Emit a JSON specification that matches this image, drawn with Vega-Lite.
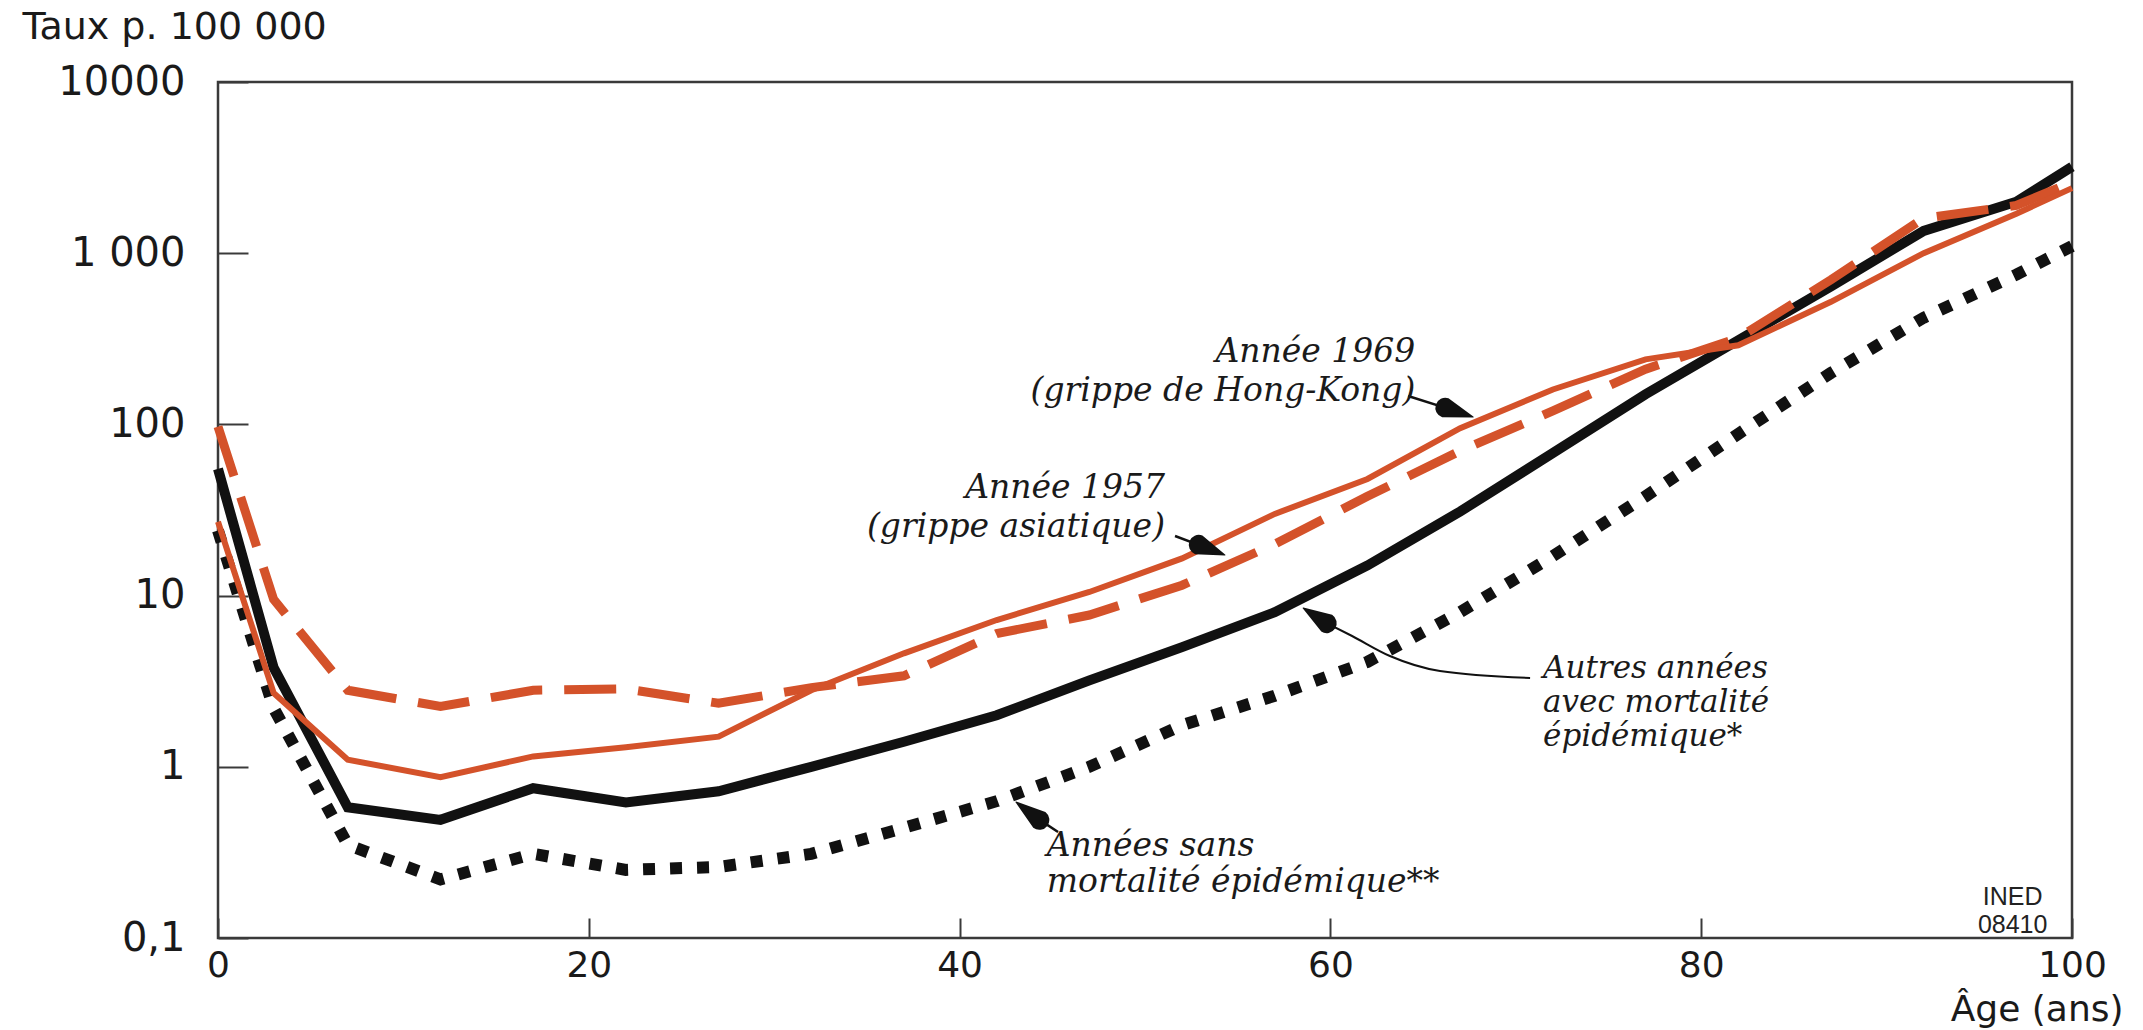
{
  "$schema": "https://vega.github.io/schema/vega-lite/v6.json",
  "width": 1854,
  "height": 856,
  "autosize": {"type": "none"},
  "padding": {"left": 218, "top": 82, "right": 71, "bottom": 92},
  "background": "white",
  "config": {
    "view": {"stroke": "#3a3a3a", "strokeWidth": 2.5}
  },
  "datasets": {
    "curves": [
      {"s":"1969","age":0,"v":27},{"s":"1969","age":3,"v":2.7},{"s":"1969","age":7,"v":1.1},{"s":"1969","age":12,"v":0.87},{"s":"1969","age":17,"v":1.15},{"s":"1969","age":22,"v":1.3},{"s":"1969","age":27,"v":1.5},{"s":"1969","age":32,"v":2.8},{"s":"1969","age":37,"v":4.6},{"s":"1969","age":42,"v":7.2},{"s":"1969","age":47,"v":10.5},{"s":"1969","age":52,"v":16.5},{"s":"1969","age":57,"v":30},{"s":"1969","age":62,"v":48},{"s":"1969","age":67,"v":95},{"s":"1969","age":72,"v":160},{"s":"1969","age":77,"v":240},{"s":"1969","age":82,"v":290},{"s":"1969","age":87,"v":520},{"s":"1969","age":92,"v":1000},{"s":"1969","age":97,"v":1700},{"s":"1969","age":100,"v":2400},
      {"s":"1957","age":0,"v":97},{"s":"1957","age":3,"v":9.5},{"s":"1957","age":7,"v":2.8},{"s":"1957","age":12,"v":2.25},{"s":"1957","age":17,"v":2.8},{"s":"1957","age":22,"v":2.85},{"s":"1957","age":27,"v":2.35},{"s":"1957","age":32,"v":2.9},{"s":"1957","age":37,"v":3.4},{"s":"1957","age":42,"v":6.0},{"s":"1957","age":47,"v":7.7},{"s":"1957","age":52,"v":11.5},{"s":"1957","age":57,"v":20},{"s":"1957","age":62,"v":38},{"s":"1957","age":67,"v":70},{"s":"1957","age":72,"v":120},{"s":"1957","age":77,"v":210},{"s":"1957","age":82,"v":320},{"s":"1957","age":87,"v":700},{"s":"1957","age":92,"v":1600},{"s":"1957","age":97,"v":1900},{"s":"1957","age":100,"v":2600},
      {"s":"autres","age":0,"v":55},{"s":"autres","age":3,"v":3.8},{"s":"autres","age":7,"v":0.58},{"s":"autres","age":12,"v":0.49},{"s":"autres","age":17,"v":0.75},{"s":"autres","age":22,"v":0.62},{"s":"autres","age":27,"v":0.72},{"s":"autres","age":32,"v":1.0},{"s":"autres","age":37,"v":1.4},{"s":"autres","age":42,"v":2.0},{"s":"autres","age":47,"v":3.2},{"s":"autres","age":52,"v":5.0},{"s":"autres","age":57,"v":8.0},{"s":"autres","age":62,"v":15},{"s":"autres","age":67,"v":31},{"s":"autres","age":72,"v":68},{"s":"autres","age":77,"v":150},{"s":"autres","age":82,"v":310},{"s":"autres","age":87,"v":640},{"s":"autres","age":92,"v":1350},{"s":"autres","age":97,"v":2000},{"s":"autres","age":100,"v":3200},
      {"s":"sans","age":0,"v":24},{"s":"sans","age":3,"v":2.2},{"s":"sans","age":7,"v":0.35},{"s":"sans","age":12,"v":0.22},{"s":"sans","age":17,"v":0.31},{"s":"sans","age":22,"v":0.25},{"s":"sans","age":27,"v":0.26},{"s":"sans","age":32,"v":0.31},{"s":"sans","age":37,"v":0.44},{"s":"sans","age":42,"v":0.63},{"s":"sans","age":47,"v":1.0},{"s":"sans","age":52,"v":1.75},{"s":"sans","age":57,"v":2.6},{"s":"sans","age":62,"v":4.1},{"s":"sans","age":67,"v":8.0},{"s":"sans","age":72,"v":17},{"s":"sans","age":77,"v":38},{"s":"sans","age":82,"v":88},{"s":"sans","age":87,"v":200},{"s":"sans","age":92,"v":420},{"s":"sans","age":97,"v":750},{"s":"sans","age":100,"v":1100}
    ],
    "shafts": [
      {"id":"hk","age":64.19,"v":146.6,"age2":66.3,"v2":124},
      {"id":"as","age":51.62,"v":22.3,"age2":53.0,"v2":19.6},
      {"id":"sa","age":45.31,"v":0.416,"age2":44.2,"v2":0.5}
    ],
    "curvedShaft": [
      {"age":70.77,"v":3.302},{"age":65.91,"v":3.627},{"age":63.21,"v":4.438},{"age":61.17,"v":5.808},{"age":59.8,"v":6.9}
    ],
    "heads": [
      {"id":"hk","part":"base","age":66.2,"v":125},{"id":"hk","part":"tip","age":67.7,"v":110.4},
      {"id":"as","part":"base","age":52.9,"v":19.8},{"id":"as","part":"tip","age":54.31,"v":17.26},
      {"id":"sa","part":"base","age":44.3,"v":0.49},{"id":"sa","part":"tip","age":43.04,"v":0.6229},
      {"id":"au","part":"base","age":59.8,"v":6.9},{"id":"au","part":"tip","age":58.53,"v":8.465}
    ],
    "labelsRight": [
      {"t":"Année 1969\n(grippe de Hong-Kong)","age":64.58,"v":231},
      {"t":"Année 1957\n(grippe asiatique)","age":51.08,"v":37}
    ],
    "labelsAutres": [
      {"t":"Autres années\navec mortalité\népidémique*","age":71.47,"v":3.3}
    ],
    "labelsSans": [
      {"t":"Années sans\nmortalité épidémique**","age":44.7,"v":0.3}
    ],
    "source": [
      {"t":"INED","age":96.8,"v":0.155},
      {"t":"08410","age":96.8,"v":0.107}
    ]
  },
  "encoding": {
    "x": {
      "field": "age", "type": "quantitative",
      "scale": {"domain": [0, 100], "nice": false, "zero": false},
      "axis": {
        "values": [0, 20, 40, 60, 80, 100], "format": "d",
        "domain": false, "grid": false,
        "tickSize": -20, "tickWidth": 2, "tickColor": "#3a3a3a",
        "labelFont": "DejaVu Sans", "labelFontSize": 36, "labelColor": "#1a1a1a",
        "labelPadding": 47, "labelBaseline": "middle", "labelFlush": false, "labelOverlap": false,
        "title": "Âge (ans)", "titleFont": "DejaVu Sans", "titleFontSize": 36, "titleFontWeight": "normal",
        "titleColor": "#1a1a1a", "titleAlign": "right", "titleBaseline": "alphabetic",
        "titleX": 1905, "titleY": 82
      }
    },
    "y": {
      "field": "v", "type": "quantitative",
      "scale": {"type": "log", "domain": [0.1, 10000], "nice": false},
      "axis": {
        "values": [0.1, 1, 10, 100, 1000, 10000],
        "labelExpr": "datum.value < 0.5 ? '0,1' : datum.value == 1000 ? '1 000' : datum.value == 10000 ? '10000' : format(datum.value, 'd')",
        "domain": false, "grid": false,
        "tickSize": -30, "tickWidth": 2, "tickColor": "#3a3a3a",
        "labelFont": "DejaVu Sans", "labelFontSize": 40, "labelColor": "#1a1a1a",
        "labelPadding": 63, "labelBaseline": "middle", "labelAlign": "right", "labelFlush": false, "labelOverlap": false,
        "title": "Taux p. 100 000", "titleFont": "DejaVu Sans", "titleFontSize": 38, "titleFontWeight": "normal",
        "titleColor": "#1a1a1a", "titleAngle": 0, "titleAlign": "left", "titleBaseline": "alphabetic",
        "titleX": -196, "titleY": -44
      }
    }
  },
  "layer": [
    {
      "data": {"name": "curves"},
      "transform": [{"filter": "datum.s == 'sans'"}],
      "mark": {"type": "line", "color": "#111111", "strokeWidth": 12, "strokeDash": [12, 15], "strokeCap": "butt"}
    },
    {
      "data": {"name": "curves"},
      "transform": [{"filter": "datum.s == 'autres'"}],
      "mark": {"type": "line", "color": "#111111", "strokeWidth": 10}
    },
    {
      "data": {"name": "curves"},
      "transform": [{"filter": "datum.s == '1957'"}],
      "mark": {"type": "line", "color": "#d4522a", "strokeWidth": 9, "strokeDash": [52, 22], "strokeCap": "butt"}
    },
    {
      "data": {"name": "curves"},
      "transform": [{"filter": "datum.s == '1969'"}],
      "mark": {"type": "line", "color": "#d4522a", "strokeWidth": 6}
    },
    {
      "data": {"name": "shafts"},
      "mark": {"type": "rule", "color": "#111111", "strokeWidth": 2.5},
      "encoding": {"x2": {"field": "age2"}, "y2": {"field": "v2"}}
    },
    {
      "data": {"name": "curvedShaft"},
      "mark": {"type": "line", "color": "#111111", "strokeWidth": 2, "interpolate": "monotone"}
    },
    {
      "data": {"name": "heads"},
      "mark": {"type": "trail", "color": "#111111"},
      "encoding": {
        "detail": {"field": "id", "type": "nominal"},
        "size": {"field": "part", "type": "ordinal", "scale": {"domain": ["base", "tip"], "range": [20, 0]}, "legend": null}
      }
    },
    {
      "data": {"name": "labelsRight"},
      "mark": {"type": "text", "align": "right", "baseline": "alphabetic", "lineBreak": "\n", "lineHeight": 39, "font": "DejaVu Serif", "fontStyle": "italic", "fontSize": 33, "color": "#1a1a1a"},
      "encoding": {"text": {"field": "t"}}
    },
    {
      "data": {"name": "labelsAutres"},
      "mark": {"type": "text", "align": "left", "baseline": "alphabetic", "lineBreak": "\n", "lineHeight": 34, "font": "DejaVu Serif", "fontStyle": "italic", "fontSize": 31, "color": "#1a1a1a"},
      "encoding": {"text": {"field": "t"}}
    },
    {
      "data": {"name": "labelsSans"},
      "mark": {"type": "text", "align": "left", "baseline": "alphabetic", "lineBreak": "\n", "lineHeight": 36, "font": "DejaVu Serif", "fontStyle": "italic", "fontSize": 33, "color": "#1a1a1a"},
      "encoding": {"text": {"field": "t"}}
    },
    {
      "data": {"name": "source"},
      "mark": {"type": "text", "align": "center", "baseline": "alphabetic", "font": "Liberation Sans", "fontSize": 25, "color": "#222222"},
      "encoding": {"text": {"field": "t"}}
    }
  ]
}
